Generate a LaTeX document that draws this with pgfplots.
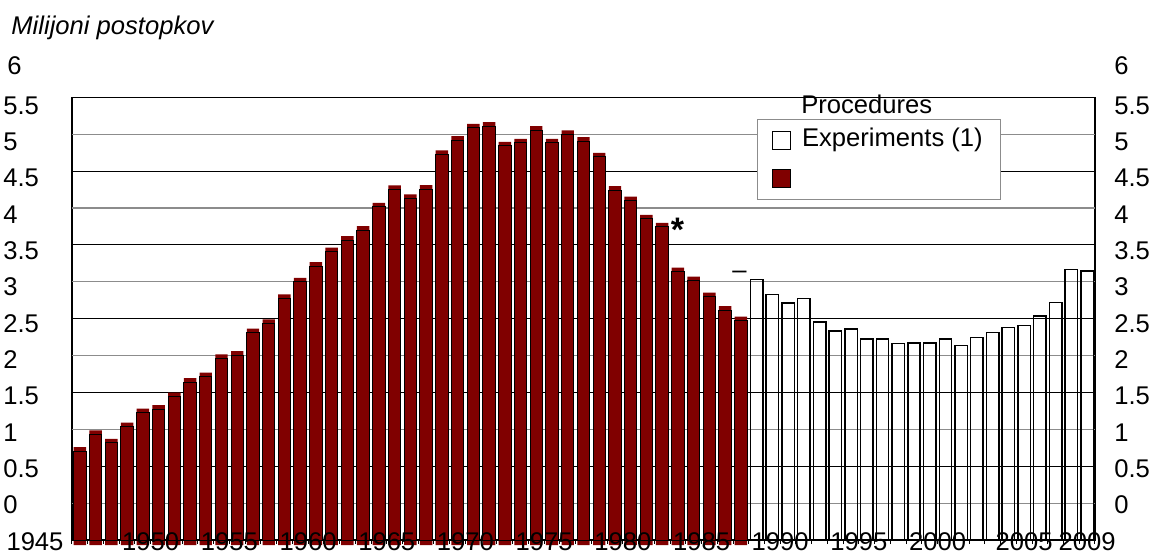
\documentclass[border=0pt]{standalone}
\usepackage{fontspec}
\setmainfont{Liberation Sans}
\usepackage{pgfplots}
\usepackage{pgfplotstable}
\pgfplotsset{compat=1.18}
\definecolor{darkred}{RGB}{128,0,0}
\definecolor{gridgray}{RGB}{140,140,140}
\newcommand{\fs}{\fontsize{12.8pt}{15pt}\selectfont}

\pgfplotstableread{
year value
1945 1.206
1946 1.432
1947 1.318
1948 1.535
1949 1.725
1950 1.775
1951 1.942
1952 2.141
1953 2.213
1954 2.462
1955 2.507
1956 2.809
1957 2.936
1958 3.275
1959 3.500
1960 3.713
1961 3.907
1962 4.065
1963 4.201
1964 4.516
1965 4.752
1966 4.630
1967 4.756
1968 5.226
1969 5.420
1970 5.587
1971 5.610
1972 5.343
1973 5.383
1974 5.556
1975 5.383
1976 5.497
1977 5.407
1978 5.194
1979 4.743
1980 4.598
1981 4.354
1982 4.245
1983 3.636
1984 3.514
1985 3.297
1986 3.117
1987 2.972
}\redtable

\pgfplotstableread{
year value
1988 3.533
1989 3.329
1990 3.215
1991 3.270
1992 2.954
1993 2.836
1994 2.859
1995 2.724
1996 2.724
1997 2.665
1998 2.673
1999 2.673
2000 2.724
2001 2.638
2002 2.747
2003 2.814
2004 2.882
2005 2.904
2006 3.039
2007 3.221
2008 3.668
2009 3.645
}\whitetable

\begin{document}
\begin{tikzpicture}
\begin{axis}[
  at={(0pt,0pt)}, anchor=south west,
  scale only axis, width=511.5pt, height=221.35pt,
  xmin=1944.5, xmax=2009.5, ymin=0, ymax=6,
  clip=false,
  /pgf/number format/assume math mode=true,
  axis line style={black, line width=0.6pt},
  xtick={1944.5,1945.5,...,2009.6},
  xticklabels={},
  xtick pos=left,
  tick align=outside,
  major tick length=2pt,
  x tick style={black, line width=0.5pt},
  ytick={0.474,0.967,1.459,1.951,2.444,2.936,3.429,3.921,4.413,4.906,5.398,5.890},
  yticklabels={0,0.5,1,1.5,2,2.5,3,3.5,4,4.5,5,5.5},
  ytick pos=left,
  y tick style={draw=none},
  yticklabel style={anchor=west, inner sep=0pt, xshift=-32.5pt, font=\fs},
  minor ytick={1,2,3,4,5},
  yminorgrids,
  minor tick length=0pt,
  minor grid style={black, line width=0.5pt},
  major grid style={gridgray, line width=0.6pt},
  extra y ticks={0.5,1.5,2.5,3.5,4.5,5.5},
  extra y tick labels={},
  extra y tick style={ymajorgrids=true, major tick length=0pt},
  legend style={at={(0.670,0.951)}, anchor=north west, draw=gridgray, line width=0.5pt,
    font=\fs, inner xsep=7pt, inner ysep=2.5pt, row sep=3pt, column sep=3.5pt,
    nodes={inner sep=2pt, text height=9pt, text depth=3pt}},
  legend cell align=left,
]
\addplot[ybar, bar width=0.79, bar shift=0pt, fill=darkred, draw=none, yshift=2pt, forget plot]
  table[x=year, y=value]{\redtable};
\addplot[ybar, bar width=0.79, bar shift=0pt, fill=darkred, draw=none, yshift=-2.5pt, forget plot]
  table[x=year, y=value]{\redtable};
\addplot[ybar, bar width=0.79, bar shift=0pt, fill=none, draw=black, line width=0.5pt, forget plot]
  table[x=year, y=value]{\redtable};
\addplot[ybar, bar width=0.79, bar shift=0pt, fill=none, draw=black, line width=0.75pt, forget plot]
  table[x=year, y=value]{\whitetable};

\addlegendimage{legend image code/.code={\draw[black, fill=white, line width=0.6pt] (0pt,-4.5pt) rectangle (9pt,4.5pt);}}
\addlegendentry{Experiments (1)}
\addlegendimage{legend image code/.code={\draw[black, fill=darkred, line width=0.6pt] (0pt,-4.5pt) rectangle (9pt,4.5pt);}}
\addlegendentry{}

\node[font=\fs, anchor=base] at (axis cs:1995.0,5.782) {Procedures};
\node[font=\fontsize{17pt}{17pt}\selectfont\bfseries, anchor=base] at (axis cs:1982.98,4.04) {*};
\node[font=\fs, anchor=base] at (axis cs:1986.91,3.55) {–};
\end{axis}

\begin{axis}[
  at={(0pt,0pt)}, anchor=south west,
  scale only axis, width=511.5pt, height=221.35pt,
  xmin=1944.5, xmax=2009.5, ymin=0, ymax=6,
  axis x line*=bottom, axis y line*=right,
  axis line style={draw=none},
  /pgf/number format/assume math mode=true,
  xtick={1949.5,1954.5,1959.5,1964.5,1969.5,1974.5,1979.5,1984.5,1989.5,1994.5,1999.5,2005,2009},
  xticklabels={1950,1955,1960,1965,1970,1975,1980,1985,1990,1995,2000,2005,2009},
  xticklabel style={anchor=center, inner sep=0pt, yshift=-1pt, font=\fs},
  x tick style={draw=none},
  ytick={0.474,0.967,1.459,1.951,2.444,2.936,3.429,3.921,4.413,4.906,5.398,5.890},
  yticklabels={0,0.5,1,1.5,2,2.5,3,3.5,4,4.5,5,5.5},
  y tick style={draw=none},
  yticklabel style={anchor=west, inner sep=0pt, xshift=9.5pt, font=\fs},
]
\end{axis}

\node[font=\fs, anchor=west, inner sep=0pt] at (-32.5pt,237.3pt) {6};
\node[font=\fs, anchor=west, inner sep=0pt] at (521pt,237.3pt) {6};
\node[font=\fs, anchor=center, inner sep=0pt] at (-18.5pt,-1pt) {1945};
\node[font=\fs\itshape, anchor=base west, inner sep=0pt] at (-30.5pt,252.85pt) {Milijoni postopkov};

\pgfresetboundingbox
\useasboundingbox (-36pt,-6.5pt) rectangle (540.5pt,270pt);
\end{tikzpicture}
\end{document}
